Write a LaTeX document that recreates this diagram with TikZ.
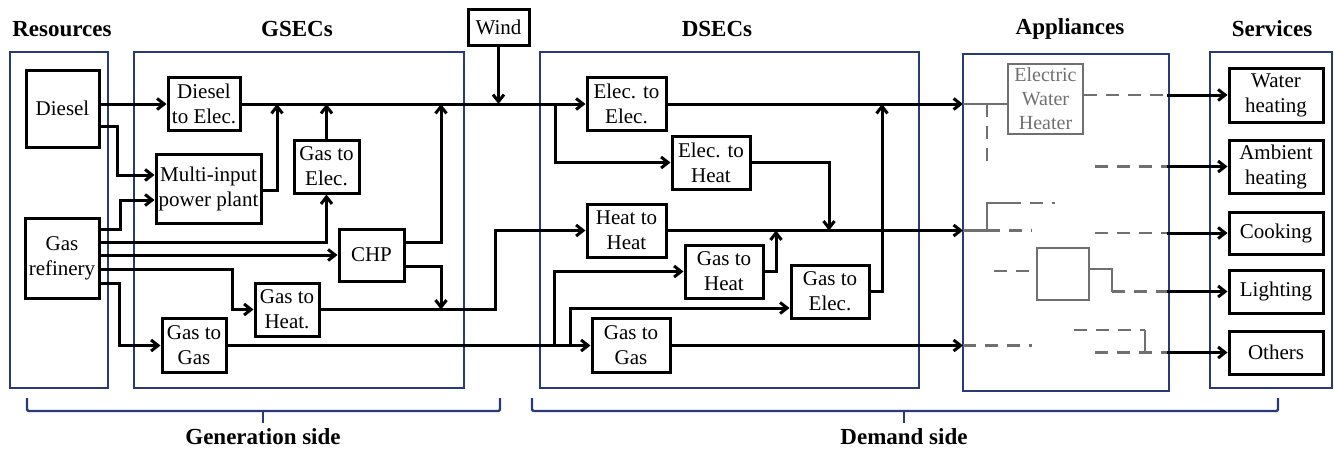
\documentclass[tikz,border=0pt]{standalone}
\usepackage{fontspec}
\setmainfont{Liberation Serif}
\usetikzlibrary{arrows.meta}
\definecolor{frameblue}{RGB}{40,58,120}
\definecolor{applgray}{RGB}{112,112,112}
\begin{document}
\begin{tikzpicture}[x=1pt,y=-1pt,>={Straight Barb[length=7pt,width=11pt]},
  line width=3pt,
  blk/.style={draw,line width=3pt,align=center,inner sep=1pt,
    font=\fontsize{21}{25}\selectfont},
  gblk/.style={draw=applgray,text=applgray,line width=2.4pt,align=center,inner sep=1pt,
    font=\fontsize{20}{24}\selectfont},
  frame/.style={draw=frameblue,line width=2.2pt},
  title/.style={font=\fontsize{23}{27}\selectfont\bfseries},
  gline/.style={draw=applgray,line width=2.4pt},
  gdash/.style={draw=applgray,line width=2.4pt,dash pattern=on 13pt off 9pt}]
  \useasboundingbox (0,0) rectangle (1334,451);

  % frames and titles
  \draw[frame] (10,52) rectangle (108,388);
  \draw[frame] (134,52) rectangle (464,388);
  \draw[frame] (540,52) rectangle (919,388);
  \draw[frame] (963,54) rectangle (1169,391);
  \draw[frame] (1210,52) rectangle (1332,388);
  \node[title] (tres) at (62,29) {Resources};
  \node[title] (tgsec) at (297,29) {GSECs};
  \node[title] (tdsec) at (717,29) {DSECs};
  \node[title] (tapp) at (1070,29) {Appliances};
  \node[title] (tserv) at (1272,29) {Services};

  % resources
  \node[blk,minimum width=73pt,minimum height=77pt] (diesel) at (62.5,108.5) {Diesel};
  \node[blk,minimum width=74pt,minimum height=80pt] (gasref) at (62,258) {Gas\\refinery};
  \node[blk,minimum width=61pt,minimum height=36pt] (wind) at (498.5,27) {Wind};

  % GSECs
  \node[blk,minimum width=72pt,minimum height=53pt] (dte) at (204,104) {Diesel\\to Elec.};
  \node[blk,minimum width=105pt,minimum height=69pt] (mipp) at (208.5,188.5) {Multi-input\\power plant};
  \node[blk,minimum width=65pt,minimum height=53pt] (gte) at (326.5,166.5) {Gas to\\Elec.};
  \node[blk,minimum width=65pt,minimum height=52pt] (chp) at (371.5,255) {CHP};
  \node[blk,minimum width=64pt,minimum height=53pt] (gth) at (287,309.5) {Gas to\\Heat.};
  \node[blk,minimum width=64pt,minimum height=54pt] (gtg) at (194,345.5) {Gas to\\Gas};

  % DSECs
  \node[blk,minimum width=79pt,minimum height=53pt] (ete) at (626.5,104) {Elec. to\\Elec.};
  \node[blk,minimum width=78pt,minimum height=53pt] (eth) at (711,162.5) {Elec. to\\Heat};
  \node[blk,minimum width=79pt,minimum height=53pt] (hth) at (626.5,230.5) {Heat to\\Heat};
  \node[blk,minimum width=78pt,minimum height=53pt] (dgth) at (724,271.5) {Gas to\\Heat};
  \node[blk,minimum width=78pt,minimum height=53pt] (dgte) at (830,291.5) {Gas to\\Elec.};
  \node[blk,minimum width=78pt,minimum height=54pt] (dgtg) at (631,345.5) {Gas to\\Gas};

  % appliances
  \node[gblk,minimum width=75pt,minimum height=70pt] (ewh) at (1045.5,99) {Electric\\Water\\Heater};
  \node[gblk,minimum width=52pt,minimum height=52pt] (appbox) at (1063,274) {};

  % services
  \node[blk,minimum width=94pt,minimum height=54pt] (water) at (1276,95) {Water\\heating};
  \node[blk,minimum width=94pt,minimum height=53pt] (ambient) at (1276,166.5) {Ambient\\heating};
  \node[blk,minimum width=94pt,minimum height=42pt] (cooking) at (1276,233) {Cooking};
  \node[blk,minimum width=94pt,minimum height=43pt] (lighting) at (1276,291.5) {Lighting};
  \node[blk,minimum width=94pt,minimum height=43pt] (others) at (1276,352.5) {Others};

  \coordinate (inE) at (963,104);
  \coordinate (inH) at (963,230.5);
  \coordinate (inG) at (963,345.5);
  \coordinate (oW) at (1167,95);
  \coordinate (oA) at (1167,166.5);
  \coordinate (oC) at (1167,233);
  \coordinate (oL) at (1167,291.5);
  \coordinate (oO) at (1167,352.5);

  % generation side
  \draw[->] (diesel.east |- dte.west) -- (dte.west);
  \draw[->] (diesel.east |- 0,126) -| (117,175) -- (mipp.west |- 0,175);
  \draw[->] (gasref.east |- 0,229) -| (120,200) -- (mipp.west |- 0,200);
  \draw[->] (gasref.east |- 0,242) -| (gte.south);
  \draw[->] (gasref.east |- chp.west) -- (chp.west);
  \draw[->] (gasref.east |- 0,269) -| (232,309.5) -- (gth.west);
  \draw[->] (gasref.east |- 0,283) -| (119,345.5) -- (gtg.west);
  \draw[->] (mipp.east |- 0,190) -| (277,104);
  \draw[->] (gte.north) -- (gte.north |- dte.east);
  \draw[->] (chp.east |- 0,242) -| (441,104);
  \draw[->] (chp.east |- 0,266) -| (441,309.5);
  \draw[->] (wind.south) -- (wind.south |- dte.east);
  \draw[->] (dte.east) -- (ete.west);
  \draw[->] (gth.east) -| (495,230.5) -- (hth.west);
  \draw[->] (gtg.east) -- (dgtg.west);

  % demand side
  \draw[->] (555,104) |- (eth.west);
  \draw[->] (eth.east) -| (829,230.5);
  \draw[->] (dgth.east) -| (776,230.5);
  \draw[->] (dgte.east) -| (882,104);
  \draw[->] (554,345.5) |- (dgth.west);
  \draw[->] (570,345.5) |- (dgte.west |- 0,308);
  \draw[->] (ete.east) -- (inE);
  \draw[->] (hth.east) -- (inH);
  \draw[->] (dgtg.east) -- (inG);

  % inside appliances
  \draw[gline] (inE) -- (ewh.west |- inE);
  \draw[gdash] (987,104) -- (987,162);
  \draw[gdash] (ewh.east |- oW) -- (oW);
  \draw[gdash] (1095,166.5) -- (oA);
  \draw[gline] (inH) -- (987,230.5) |- (1008,203);
  \draw[gdash] (987,230.5) -- (1032,230.5);
  \draw[gdash] (1008,203) -- (1055,203);
  \draw[gdash] (1095,233) -- (oC);
  \draw[gdash] (994,271) -- (appbox.west |- 0,271);
  \draw[gline] (appbox.east |- 0,269) -| (1112,291.5);
  \draw[gdash] (1112,291.5) -- (oL);
  \draw[gdash] (inG) -- (1032,345.5);
  \draw[gdash] (1074,330) -- (1145,330);
  \draw[gline] (1145,330) -- (1145,352.5);
  \draw[gdash] (1095,352.5) -- (oO);

  \draw[->] (oW) -- (water.west);
  \draw[->] (oA) -- (ambient.west);
  \draw[->] (oC) -- (cooking.west);
  \draw[->] (oL) -- (lighting.west);
  \draw[->] (oO) -- (others.west);

  % braces
  \draw[frameblue,line width=2.4pt,rounded corners=2pt] (27,398) -- (27,411) -- (500,411) -- (500,398);
  \draw[frameblue,line width=2.4pt] (263,411) -- (263,423);
  \draw[frameblue,line width=2.4pt,rounded corners=2pt] (532,398) -- (532,411) -- (1278,411) -- (1278,398);
  \draw[frameblue,line width=2.4pt] (904,411) -- (904,423);
  \node[title] (gside) at (263,437) {Generation side};
  \node[title] (dside) at (904,437) {Demand side};
\end{tikzpicture}
\end{document}
